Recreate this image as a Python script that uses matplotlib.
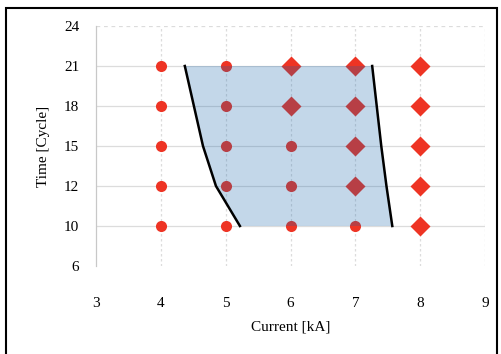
import numpy as np
import matplotlib.pyplot as plt
from matplotlib.patches import Rectangle

plt.rcParams['font.family'] = 'Liberation Serif'

# y axis is categorical-like: evenly spaced cycle ticks
y_ticks = [6, 10, 12, 15, 18, 21, 24]
x_ticks = [3, 4, 5, 6, 7, 8, 9]

# test points (current kA, cycles)
circle_x = [4, 4, 4, 4, 4, 5, 5, 5, 5, 5, 6, 6, 6, 7]
circle_y = [10, 12, 15, 18, 21, 10, 12, 15, 18, 21, 10, 12, 15, 10]
diamond_x = [6, 6, 7, 7, 7, 7, 8, 8, 8, 8, 8]
diamond_y = [18, 21, 12, 15, 18, 21, 10, 12, 15, 18, 21]

# boundaries of the weldable window
left_cyc = [21, 18, 15, 12, 10]
left_cur = [4.37, 4.51, 4.65, 4.85, 5.22]
right_cyc = [21, 18, 15, 12, 10]
right_cur = [7.26, 7.33, 7.40, 7.48, 7.57]


def ypos(v):
    return np.interp(v, y_ticks, np.arange(len(y_ticks)))


red = '#ee3424'

fig = plt.figure(figsize=(5.01, 3.54), dpi=100)
ax = fig.add_axes([96 / 501, 1 - 266 / 354, 389 / 501, 240 / 354])

# frame around the whole figure
fig.patches.append(Rectangle((6 / 501, -0.05), 491 / 501, 1.05 - 8 / 354,
                             transform=fig.transFigure, fill=False,
                             edgecolor='black', linewidth=1.5))

for i in range(1, len(y_ticks)):
    ls = '-' if i < len(y_ticks) - 1 else (0, (3, 3))
    ax.axhline(i, color='#dcdcdc', lw=0.9, ls=ls, zorder=0)
for xv in x_ticks[1:]:
    ax.axvline(xv, color='#dcdcdc', lw=0.9, ls=(0, (2, 2)), zorder=0)

ax.plot(circle_x, ypos(circle_y), 'o', color=red, ms=8, mec='none', zorder=2)
ax.plot(diamond_x, ypos(diamond_y), 'D', color=red, ms=10, mec='none', zorder=2)

# shaded window drawn on top of the markers
poly_x = list(left_cur) + list(right_cur[::-1])
poly_y = list(ypos(left_cyc)) + list(ypos(right_cyc[::-1]))
ax.fill(poly_x, poly_y, color='#1363ab', alpha=0.25, lw=0, zorder=3)
ax.plot(left_cur, ypos(left_cyc), color='black', lw=1.8, zorder=4)
ax.plot(right_cur, ypos(right_cyc), color='black', lw=1.8, zorder=4)

ax.set_xlim(3, 9)
ax.set_ylim(0, len(y_ticks) - 1)
ax.set_xticks(x_ticks)
ax.set_xticklabels([str(v) for v in x_ticks])
ax.set_yticks(np.arange(len(y_ticks)))
ax.set_yticklabels([str(v) for v in y_ticks])
ax.tick_params(length=0, labelsize=11, colors='black')
ax.tick_params(axis='x', pad=22)
ax.tick_params(axis='y', pad=12)

for s in ['top', 'right', 'bottom']:
    ax.spines[s].set_visible(False)
ax.spines['left'].set_color('#c8c8c8')
ax.spines['left'].set_linewidth(0.9)

ax.set_xlabel('Current [kA]', fontsize=11, labelpad=8)
ax.set_ylabel('Time [Cycle]', fontsize=11, labelpad=10)

fig.savefig('out.png', dpi=100)
